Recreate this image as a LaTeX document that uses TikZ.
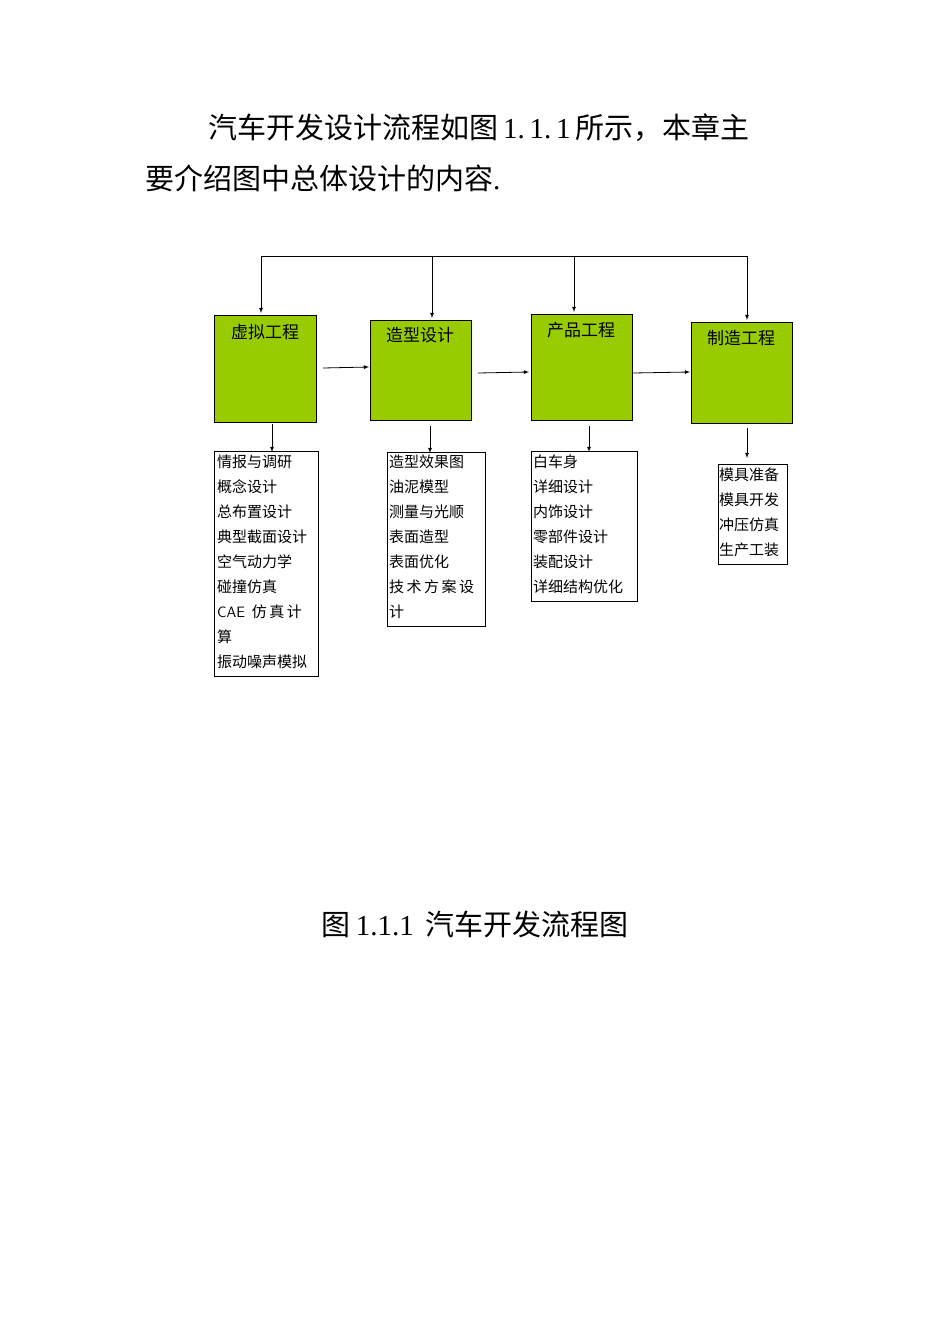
\documentclass[tikz,border=0pt]{standalone}
\usepackage{fontspec}
\setmainfont{Noto Sans CJK SC}
\newfontfamily\lat{Liberation Serif}
\begin{document}
\begin{tikzpicture}[x=1pt,y=-1pt,
  gbox/.style={draw,fill={rgb,255:red,153;green,204;blue,0},line width=0.8pt},
  lbox/.style={draw,line width=0.6pt},
  arr/.style={-{latex},line width=0.8pt},
  ttl/.style={font=\fontsize{17}{17}\selectfont,anchor=north},
  itm/.style={font=\fontsize{15}{25}\selectfont,anchor=north west,align=left,inner sep=0pt}]
\useasboundingbox (0,0) rectangle (950,1344);
\node[anchor=west,font=\fontsize{29}{29}\selectfont,inner sep=0] (h1) at (208,128) {汽车开发设计流程如图\,{\lat 1.\,1.\,1}\,所示，本章主};
\node[anchor=west,font=\fontsize{29}{29}\selectfont,inner sep=0] (h2) at (145,178) {要介绍图中总体设计的内容{\lat .}};
\node[font=\fontsize{29}{29}\selectfont,inner sep=0] (cap) at (475,924) {图\,{\lat 1.1.1}\, 汽车开发流程图};
% green boxes
\draw[gbox] (214,315) rectangle (316,422); \node[ttl] (a) at (265,321) {虚拟工程};
\draw[gbox] (370,320) rectangle (471,420); \node[ttl] (b) at (420,324) {造型设计};
\draw[gbox] (531,314) rectangle (632,420); \node[ttl] (c) at (581,319) {产品工程};
\draw[gbox] (691,322) rectangle (792,423); \node[ttl] (d) at (741,327) {制造工程};
% top connectors
\coordinate (t1) at (261,256); \coordinate (t4) at (747,256);
\draw[line width=0.8pt] (t1) -- (t4);
\draw[arr] (t1) -- (261,313);
\draw[arr] (432,256) -- (432,318);
\draw[arr] (574,256) -- (574,312);
\draw[arr] (t4) -- (747,320);
% horizontal
\draw[arr] (323,368) -- (369,367);
\draw[arr] (478,373) -- (529,372);
\draw[arr] (633,373) -- (690,372);
% down
\draw[arr] (272,424) -- (272,452);
\draw[arr] (430,426) -- (430,453);
\draw[arr] (589,426) -- (589,452);
\draw[arr] (747,428) -- (747,458);
% lists
\draw[lbox] (214,451) rectangle (318,676);
\node[itm] (l1) at (217,455) {情报与调研\\概念设计\\总布置设计\\典型截面设计\\空气动力学\\碰撞仿真\\{\sffamily CAE}\ \ 仿\,真\,计\\算\\振动噪声模拟};
\draw[lbox] (387,452) rectangle (485,626);
\node[itm] (l2) at (389,455) {造型效果图\\油泥模型\\测量与光顺\\表面造型\\表面优化\\技\,术\,方\,案\,设\\计};
\draw[lbox] (531,451) rectangle (637,601);
\node[itm] (l3) at (533,455) {白车身\\详细设计\\内饰设计\\零部件设计\\装配设计\\详细结构优化};
\draw[lbox] (718,464) rectangle (787,564);
\node[itm] (l4) at (719,468) {模具准备\\模具开发\\冲压仿真\\生产工装};
\end{tikzpicture}
\end{document}
